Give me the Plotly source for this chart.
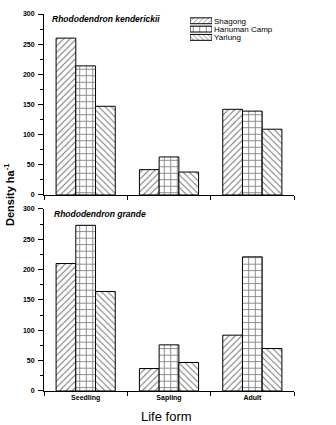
import plotly.graph_objects as go
from plotly.subplots import make_subplots

life_forms = ["Seedling", "Sapling", "Adult"]
sites = ["Shagong", "Hanuman Camp", "Yarlung"]
patterns = ["/", "+", "\\"]
pattern_sizes = [4.5, 6.5, 4.5]

kenderickii = {
    "Shagong": [260, 42, 142],
    "Hanuman Camp": [214, 63, 139],
    "Yarlung": [147, 38, 109],
}
grande = {
    "Shagong": [210, 37, 92],
    "Hanuman Camp": [273, 76, 221],
    "Yarlung": [164, 47, 70],
}
y_ticks = [0, 50, 100, 150, 200, 250, 300]
legend_key_length = [1, 1, 1]  # legend swatches span the full key box

fig = make_subplots(rows=2, cols=1, shared_xaxes=False, vertical_spacing=0.0)

for row, data in [(1, kenderickii), (2, grande)]:
    for i, s in enumerate(sites):
        fig.add_trace(go.Bar(
            x=life_forms, y=data[s], name=s, showlegend=False,
            marker=dict(color="white",
                        line=dict(color="black", width=1),
                        pattern=dict(shape=patterns[i], fgcolor="black", bgcolor="white",
                                     size=pattern_sizes[i], solidity=0.25)),
        ), row=row, col=1)

# custom legend key (wide swatches like the original)
fig.add_trace(go.Bar(
    y=sites, x=legend_key_length, orientation="h", showlegend=False,
    xaxis="x3", yaxis="y3", hoverinfo="skip",
    marker=dict(color="white", line=dict(color="black", width=1),
                pattern=dict(shape=patterns, fgcolor="black", bgcolor="white",
                             size=[3.5, 6.5, 3.5], solidity=0.25)),
))

font_family = "Liberation Sans, Arial, sans-serif"

fig.update_layout(
    width=336, height=425,
    margin=dict(l=44, r=42, t=10, b=34),
    paper_bgcolor="white", plot_bgcolor="white",
    barmode="group", bargap=0.29, bargroupgap=0,
    font=dict(family=font_family, color="black"),
    showlegend=False,
    yaxis=dict(domain=[0.52, 1.0]),
    yaxis2=dict(domain=[0.0, 0.483]),
    xaxis3=dict(domain=[0.584, 0.672], range=[0, 1], anchor="y3", visible=False),
    yaxis3=dict(domain=[0.927, 0.993], anchor="x3", type="category",
                categoryorder="array", categoryarray=sites, autorange="reversed",
                tickmode="array", tickvals=sites, ticktext=sites,
                side="right", showline=False, showgrid=False, ticks="",
                zeroline=False, ticklabelstandoff=1,
                tickfont=dict(size=8, family=font_family)),
)

for ax in ["xaxis", "xaxis2"]:
    fig.layout[ax].update(
        type="category", range=[-0.5, 2.5], tickson="boundaries",
        ticks="outside", ticklen=4, tickcolor="black", tickwidth=1,
        showline=True, linecolor="black", linewidth=1, showgrid=False,
        tickfont=dict(size=7, family=font_family, weight="bold"),
    )
fig.layout.xaxis.update(showticklabels=False, anchor="y")
fig.layout.xaxis2.update(anchor="y2")

for ax in ["yaxis", "yaxis2"]:
    fig.layout[ax].update(
        range=[0, 300], tickvals=y_ticks, ticks="outside", ticklen=5,
        tickcolor="black", tickwidth=1, showline=True, linecolor="black",
        linewidth=1, showgrid=False, zeroline=False, ticklabelstandoff=2,
        tickfont=dict(size=7, family=font_family, weight="bold"),
        minor=dict(ticks="outside", ticklen=3, dtick=25, tickcolor="black", showgrid=False),
    )

fig.add_annotation(text="<b><i>Rhododendron kenderickii</i></b>", xref="paper", yref="paper",
                   x=0.022, y=0.988, xanchor="left", yanchor="middle", showarrow=False,
                   font=dict(size=8.5, family=font_family))
fig.add_annotation(text="<b><i>Rhododendron grande</i></b>", xref="paper", yref="paper",
                   x=0.032, y=0.469, xanchor="left", yanchor="middle", showarrow=False,
                   font=dict(size=8.5, family=font_family))
fig.add_annotation(text="<b>Density ha<sup>-1</sup></b>", xref="paper", yref="paper",
                   x=-0.14, y=0.52, xanchor="center", yanchor="middle", textangle=-90,
                   showarrow=False, font=dict(size=11, family=font_family))
fig.add_annotation(text="Life form", xref="paper", yref="paper",
                   x=0.49, y=-0.068, xanchor="center", yanchor="middle",
                   showarrow=False, font=dict(size=13, family=font_family))

fig.write_html("out.html", config={"displayModeBar": False},
               post_script="document.body.style.margin='0';")
